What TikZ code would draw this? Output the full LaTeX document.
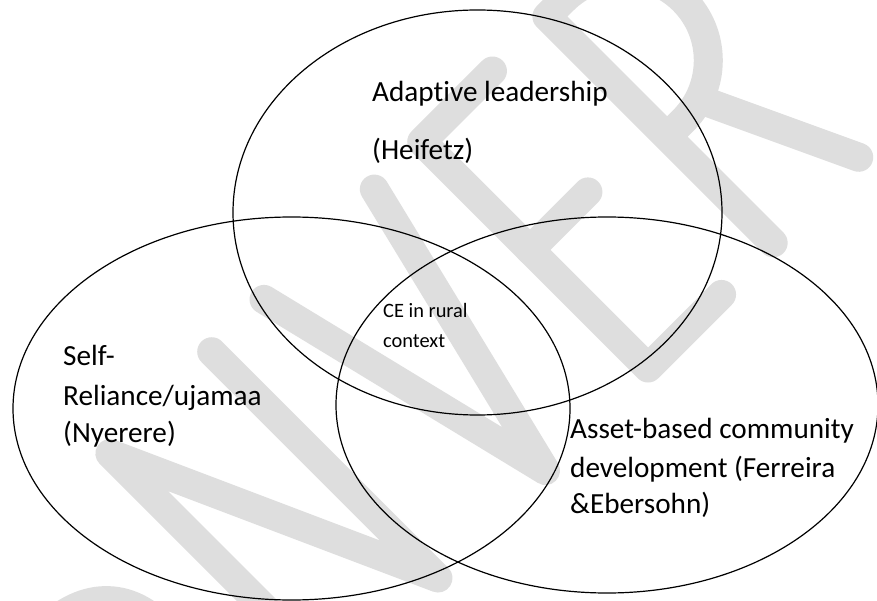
\documentclass[tikz,border=0pt]{standalone}
\usepackage{fontspec}
\setmainfont{Carlito}[Ligatures={TeX,NoCommon}]
\definecolor{wm}{RGB}{222,222,222}
\begin{document}
\begin{tikzpicture}[x=1pt,y=-1pt,
  wmark/.style={draw=wm, line width=29pt, line cap=round, line join=round},
  ring/.style={draw=black, line width=1.2pt},
  big/.style={anchor=base west, inner sep=0pt, font=\fontsize{29.2pt}{35pt}\selectfont},
  small/.style={anchor=base west, inner sep=0pt, font=\fontsize{20.4pt}{25pt}\selectfont}]
\useasboundingbox (0,0) rectangle (877,601);
\fill[white] (0,0) rectangle (877,601);
\begin{scope}
\clip (0,0) rectangle (877,601);
\begin{scope}[shift={(648pt,-368pt)}, x={(0.7071pt,0.7071pt)}, y={(-0.7071pt,0.7071pt)}]
  % N
  \draw[wmark] (-441,0) -- (-441,320) -- (-297,0) -- (-297,320);
  % V
  \draw[wmark] (-223,320) -- (-145,0) -- (-67,320);
  % E
  \draw[wmark] (100,320) -- (0,320) -- (0,0) -- (104,0);
  \draw[wmark] (0,167) -- (82,167);
  % R
  \draw[wmark] (177,0) -- (177,320) -- (200,320) .. controls (247,320) and (285,282) .. (285,235) .. controls (285,188) and (247,150) .. (200,150) -- (177,150);
  \draw[wmark] (228,150) -- (298,0);
\end{scope}
\draw[wmark] (40,635) .. controls (80,590) and (130,590) .. (165,630);
\draw[ring] (477.5,212.5) ellipse [x radius=244.5pt, y radius=202.5pt];
\draw[ring] (291.5,408.5) ellipse [x radius=278.5pt, y radius=191.5pt];
\draw[ring] (607,405) ellipse [x radius=271pt, y radius=188pt];
\end{scope}
\node[big] (t1) at (372,102) {Adaptive leadership};
\node[big] (t2) at (372,160) {(Heifetz)};
\node[big] (l1) at (63,365) {Self-};
\node[big] (l2) at (63,405) {Reliance/ujamaa};
\node[big] (l3) at (63,442) {(Nyerere)};
\node[big] (r1) at (570,438) {Asset-based community};
\node[big] (r2) at (570,477) {development (Ferreira};
\node[big] (r3) at (570,513) {\&Ebersohn)};
\node[small] (c1) at (383,317) {CE in rural};
\node[small] (c2) at (383,347) {context};
\end{tikzpicture}
\end{document}
